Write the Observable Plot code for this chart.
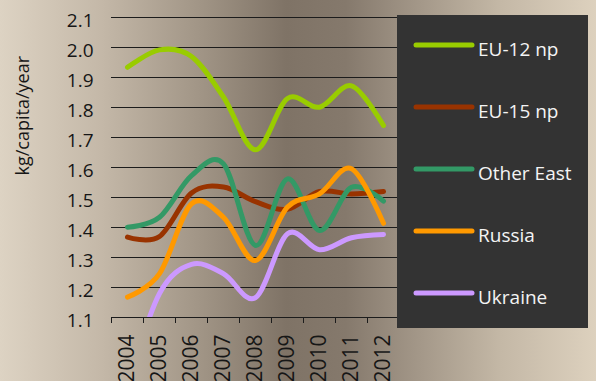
<!DOCTYPE html>
<html><head><meta charset="utf-8">
<script src="https://cdn.jsdelivr.net/npm/d3@7"></script>
<script src="https://cdn.jsdelivr.net/npm/@observablehq/plot@0.6"></script>
<style>
html,body{margin:0;padding:0;}
body{width:596px;height:381px;overflow:hidden;
background:linear-gradient(to right,#ddd3c3 0%,#c4b8a8 17%,#a09485 34%,#7f7366 48%,#85796c 58%,#998d7f 66%,#c4b8a6 84%,#ddd1be 100%);}
#wrap{position:relative;width:596px;height:381px;}
#wrap svg{display:block;}
</style></head><body><div id="wrap"></div>
<script>
const years = [2004, 2005, 2006, 2007, 2008, 2009, 2010, 2011, 2012];
const seriesNames = ["EU-12 np", "EU-15 np", "Other East", "Russia", "Ukraine"];
const eu12 = [1.934, 1.992, 1.970, 1.835, 1.659, 1.830, 1.801, 1.872, 1.740];
const eu15 = [1.368, 1.370, 1.515, 1.535, 1.486, 1.461, 1.520, 1.512, 1.520];
const otherEast = [1.401, 1.434, 1.573, 1.612, 1.340, 1.562, 1.390, 1.534, 1.488];
const russia = [1.168, 1.246, 1.479, 1.434, 1.290, 1.468, 1.512, 1.596, 1.414];
const ukraine = [0.880, 1.180, 1.277, 1.246, 1.166, 1.379, 1.326, 1.366, 1.377];
const colors = ["#99cc00", "#993300", "#339966", "#ff9900", "#cc99ff"];
const yTicks = [1.1, 1.2, 1.3, 1.4, 1.5, 1.6, 1.7, 1.8, 1.9, 2.0, 2.1];
const yLabel = "kg/capita/year";

const allSeries = [eu12, eu15, otherEast, russia, ukraine];
const data = [];
allSeries.forEach((vals, i) => vals.forEach((v, j) => data.push({series: seriesNames[i], year: years[j], value: v})));
const bounds = d3.range(years[0] - 0.5, years[years.length - 1] + 1, 1);

const chart = Plot.plot({
  width: 596, height: 381,
  marginLeft: 111, marginRight: 197, marginTop: 17, marginBottom: 64,
  style: {fontFamily: "'Open Sans', sans-serif", fontSize: "18px", color: "#161616", background: "transparent", overflow: "visible"},
  x: {domain: [years[0] - 0.5, years[years.length - 1] + 0.5]},
  y: {domain: [1.1, 2.1]},
  color: {domain: seriesNames, range: colors},
  marks: [
    Plot.ruleY(yTicks, {stroke: "#1c1c1c", strokeWidth: 1.2}),
    Plot.axisY({ticks: yTicks, tickSize: 0, tickPadding: 18, tickFormat: d => d.toFixed(1), label: null, fontSize: 19, dy: 3}),
    Plot.axisX({ticks: bounds, tickSize: 6, tickFormat: () => "", label: null, stroke: "#1c1c1c"}),
    Plot.axisX({ticks: years, tickSize: 0, tickRotate: -90, tickPadding: 17, tickFormat: d => String(d), label: null, fontSize: 21}),
    Plot.text([yLabel], {frameAnchor: "left", dx: -88, dy: 8, rotate: -90, fontSize: 18, fill: "#161616"}),
    Plot.line(data, {x: "year", y: "value", z: "series", stroke: "series", curve: "cardinal", strokeWidth: 5, strokeLinecap: "round", strokeLinejoin: "round", clip: true})
  ]
});
document.getElementById("wrap").appendChild(chart);

// legend box
const svg = d3.select(chart);
const lg = svg.append("g").attr("transform", "translate(397,15)").attr("text-anchor", "start");
lg.append("rect").attr("width", 191).attr("height", 313).attr("fill", "#333333");
seriesNames.forEach((name, i) => {
  const cy = 30 + i * 62;
  lg.append("line").attr("x1", 19).attr("x2", 75).attr("y1", cy).attr("y2", cy)
    .attr("stroke", colors[i]).attr("stroke-width", 5).attr("stroke-linecap", "round");
  lg.append("text").attr("x", 81).attr("y", cy + 11).attr("fill", "#f4f4f4")
    .attr("text-anchor", "start")
    .attr("font-family", "'Open Sans', sans-serif").attr("font-size", 19).text(name);
});
</script>
</body></html>
